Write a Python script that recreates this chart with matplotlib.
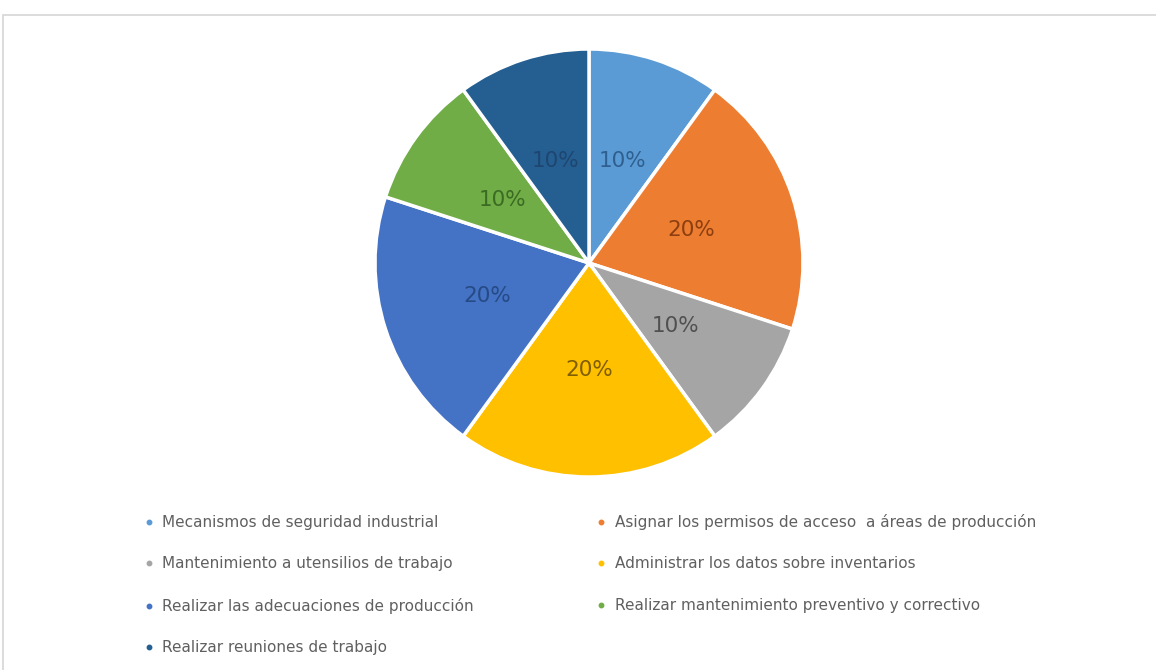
import matplotlib
matplotlib.use("Agg")
from matplotlib import pyplot as plt
from matplotlib.lines import Line2D
from matplotlib.patches import Rectangle

labels = [
    "Mecanismos de seguridad industrial",
    "Asignar los permisos de acceso  a áreas de producción",
    "Mantenimiento a utensilios de trabajo",
    "Administrar los datos sobre inventarios",
    "Realizar las adecuaciones de producción",
    "Realizar mantenimiento preventivo y correctivo",
    "Realizar reuniones de trabajo",
]
values = [10, 20, 10, 20, 20, 10, 10]
colors = ["#5B9BD5", "#ED7D31", "#A5A5A5", "#FFC000", "#4472C4", "#70AD47", "#255E91"]
text_colors = ["#2F5F8F", "#8C3E10", "#505050", "#7F5E00", "#264A85", "#3B6B22", "#1E4670"]

plt.rcParams["font.family"] = ["DejaVu Sans"]

fig = plt.figure(figsize=(11.56, 6.70), dpi=100)
fig.patches.append(Rectangle((3 / 1156, -0.01), 1.01, 1 - 15 / 670 + 0.01,
                             transform=fig.transFigure, fill=False,
                             edgecolor="#d6d6d6", linewidth=1.2))

ax = fig.add_axes([374 / 1156, 1 - 477 / 670, 430 / 1156, 428 / 670])
wedges, _, autotexts = ax.pie(values, colors=colors, startangle=90, counterclock=False,
                              autopct="%1.0f%%", pctdistance=0.5,
                              wedgeprops=dict(edgecolor="white", linewidth=2.5),
                              textprops=dict(fontsize=15.5))
for t, c in zip(autotexts, text_colors):
    t.set_color(c)
ax.set_xlim(-1, 1)
ax.set_ylim(-1, 1)

# legend laid out row by row: two columns
order = [0, 2, 4, 6, 1, 3, 5]
handles = [Line2D([], [], linestyle="none", marker="o", markersize=3.2,
                  color=colors[i]) for i in order]
leg = fig.legend(handles, [labels[i] for i in order], ncol=2, frameon=False,
                 loc="upper left", bbox_to_anchor=(144 / 1156, 1 - 514 / 670),
                 fontsize=11, labelspacing=1.73, handlelength=0.6, handletextpad=0.6,
                 columnspacing=8.0, borderpad=0, borderaxespad=0)
for t in leg.get_texts():
    t.set_color("#606060")

fig.savefig("out.png", dpi=100)
